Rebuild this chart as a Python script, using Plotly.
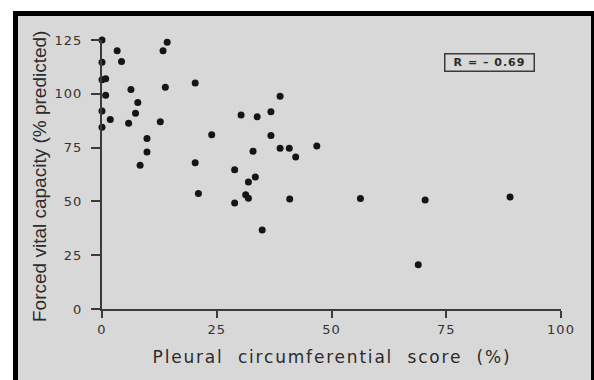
import plotly.graph_objects as go

# Data
score = [0, 3.3, 14.2, 13.3, 0, 4.25, 0, 0.8, 0.8, 6.3, 13.8, 7.8, 7.3, 0, 1.8, 5.8,
         12.7, 0, 9.8, 9.8, 8.3, 20.3, 38.8, 30.3, 33.8, 36.8, 23.9, 36.8, 32.9, 38.8,
         40.8, 42.2, 20.3, 28.9, 33.4, 31.9, 21.0, 31.3, 31.9, 28.9, 40.9, 34.9, 46.8,
         56.3, 70.4, 88.9, 68.9]
fvc = [125, 120, 124, 120, 114.7, 115, 106.5, 107, 99.3, 102, 103, 96, 91, 92, 88, 86.3,
       87, 84.5, 79.2, 73, 66.8, 105, 98.9, 90.2, 89.3, 91.7, 81, 80.6, 73.3, 74.7,
       74.7, 70.6, 68, 64.7, 61.3, 59, 53.7, 53.1, 51.5, 49.2, 51.1, 36.7, 75.8,
       51.3, 50.7, 52, 20.6]
x_ticks = [0, 25, 50, 75, 100]
y_ticks = [0, 25, 50, 75, 100, 125]
r_label = "R\u00a0=\u00a0\u2013\u00a00.69"
x_title = "Pleural\u00a0\u00a0circumferential\u00a0\u00a0score\u00a0\u00a0(%)"
y_title = "Forced vital capacity (% predicted)"

W, H = 594, 380
ML, MR, MT, MB = 102, 33, 40, 71
PW, PH = W - ML - MR, H - MT - MB


def px(x):
    return (x - ML) / PW


def py(y):
    return (H - MB - y) / PH


GREY = "#d8d8d8"
INK = "#2b2b2b"

fig = go.Figure()
fig.add_trace(go.Scatter(
    x=score, y=fvc, mode="markers",
    marker=dict(size=7, color="#151515"),
    cliponaxis=False, showlegend=False,
))

axis_common = dict(
    showline=True, linecolor="#3a3a3a", linewidth=2,
    ticks="outside", tickcolor="#3a3a3a", tickwidth=1.5,
    showgrid=False, zeroline=False,
    tickfont=dict(family="DejaVu Sans", size=13, color="#333333"),
)
fig.update_xaxes(range=[0, 100], tickvals=x_ticks, ticklen=7, **axis_common)
fig.update_yaxes(range=[0, 125], tickvals=y_ticks, ticklen=9, ticklabelstandoff=6, **axis_common)

shapes = [
    dict(type="rect", xref="paper", yref="paper", layer="below",
         x0=px(18), x1=px(591), y0=py(381), y1=py(16),
         fillcolor=GREY, line=dict(width=0)),
    dict(type="rect", xref="paper", yref="paper", layer="below",
         x0=px(-1), x1=px(595), y0=py(11), y1=py(-1),
         fillcolor="white", line=dict(width=0)),
    dict(type="rect", xref="paper", yref="paper", layer="below",
         x0=px(-1), x1=px(13), y0=py(381), y1=py(-1),
         fillcolor="white", line=dict(width=0)),
]

annotations = [
    dict(text=x_title, xref="paper", yref="paper", x=px(332), y=py(357),
         showarrow=False, xanchor="center", yanchor="middle",
         font=dict(family="DejaVu Sans", size=17, color=INK)),
    dict(text=y_title, xref="paper", yref="paper", x=px(39), y=py(177),
         showarrow=False, xanchor="center", yanchor="middle", textangle=-90,
         font=dict(family="Liberation Sans Narrow, Liberation Sans", size=19, color=INK)),
    dict(text=r_label, xref="paper", yref="paper", x=px(489), y=py(62.5),
         showarrow=False, xanchor="center", yanchor="middle",
         width=86, height=14, borderpad=1, bordercolor="#3a3a3a", borderwidth=1.5,
         font=dict(family="DejaVu Sans", size=11, color=INK, weight="bold")),
]

fig.update_layout(
    width=W, height=H,
    margin=dict(l=ML, r=MR, t=MT, b=MB, pad=0),
    paper_bgcolor="black", plot_bgcolor="rgba(0,0,0,0)",
    shapes=shapes, annotations=annotations,
)

post = """
document.body.style.margin='0';
document.body.style.padding='0';
var gd = document.getElementById('{plot_id}');
gd.querySelectorAll('text').forEach(function(t){
  var s = t.textContent;
  if (s.indexOf('Pleural') === 0) { t.style.letterSpacing = '1.8px'; }
  else if (s.indexOf('R') === 0) { t.style.letterSpacing = '1px'; }
  else if (/^[0-9]+$/.test(s)) { t.style.letterSpacing = '1px'; }
});
"""

fig.write_html("out.html", post_script=post, config={"displayModeBar": False})
